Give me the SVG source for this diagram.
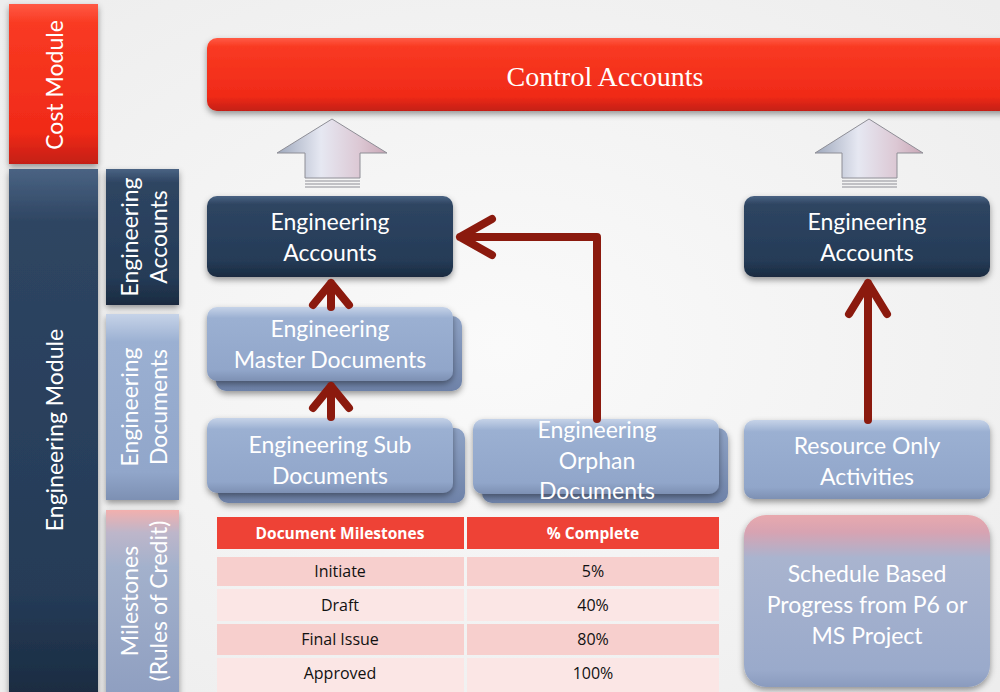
<svg xmlns="http://www.w3.org/2000/svg" width="1000" height="692" viewBox="0 0 1000 692">
<defs>
  <radialGradient id="bg" cx="0.5" cy="0.5" r="0.7">
    <stop offset="0" stop-color="#FAFAFA"/>
    <stop offset="1" stop-color="#EDEDED"/>
  </radialGradient>
  <linearGradient id="red" x1="0" y1="0" x2="0" y2="1">
    <stop offset="0" stop-color="#FF5A45"/>
    <stop offset="0.12" stop-color="#F93A22"/>
    <stop offset="0.8" stop-color="#F02A18"/>
    <stop offset="1" stop-color="#C41F12"/>
  </linearGradient>
  <linearGradient id="navy" x1="0" y1="0" x2="0" y2="1">
    <stop offset="0" stop-color="#4A6383"/>
    <stop offset="0.1" stop-color="#2E4562"/>
    <stop offset="0.8" stop-color="#253B57"/>
    <stop offset="1" stop-color="#1A2B40"/>
  </linearGradient>
  <linearGradient id="light" x1="0" y1="0" x2="0" y2="1">
    <stop offset="0" stop-color="#C6D3E8"/>
    <stop offset="0.15" stop-color="#9BB0D2"/>
    <stop offset="0.85" stop-color="#91A6CA"/>
    <stop offset="1" stop-color="#7D90B3"/>
  </linearGradient>
  <linearGradient id="lightback" x1="0" y1="0" x2="0" y2="1">
    <stop offset="0" stop-color="#8FA3C6"/>
    <stop offset="1" stop-color="#6E82A8"/>
  </linearGradient>
  <linearGradient id="pinkblue" x1="0" y1="0" x2="0" y2="1">
    <stop offset="0" stop-color="#E8A9AE"/>
    <stop offset="0.1" stop-color="#D7A3B2"/>
    <stop offset="0.25" stop-color="#A9B4CF"/>
    <stop offset="0.9" stop-color="#9AAACB"/>
    <stop offset="1" stop-color="#8A9BBE"/>
  </linearGradient>
  <linearGradient id="sideMil" x1="0" y1="0" x2="0" y2="1">
    <stop offset="0" stop-color="#F2B0AE"/>
    <stop offset="0.12" stop-color="#BDB6CA"/>
    <stop offset="0.3" stop-color="#A3B1CC"/>
    <stop offset="1" stop-color="#8E9EC0"/>
  </linearGradient>
  <linearGradient id="grayArrow" x1="0" y1="0" x2="1" y2="0">
    <stop offset="0" stop-color="#9EA8BC"/>
    <stop offset="0.4" stop-color="#E6E8F2"/>
    <stop offset="0.75" stop-color="#DCC8D4"/>
    <stop offset="1" stop-color="#C9A7B6"/>
  </linearGradient>
  <filter id="sh" x="-10%" y="-20%" width="120%" height="150%">
    <feDropShadow dx="0" dy="3" stdDeviation="3" flood-color="#000" flood-opacity="0.4"/>
  </filter>
</defs>
<style>
  .w { fill: #FFFFFF; font-family: Lato, "Open Sans", sans-serif; font-size: 23px; text-anchor: middle; }
  .side { fill: #FFFFFF; font-family: Lato, "Open Sans", sans-serif; font-size: 23px; text-anchor: middle; }
  .th { fill: #FFFFFF; font-family: "Open Sans", Lato, sans-serif; font-weight: bold; font-size: 15.5px; text-anchor: middle; }
  .td { fill: #111111; font-family: "Open Sans", Lato, sans-serif; font-size: 16px; text-anchor: middle; }
  .conn { fill: none; stroke: #8B1A0E; stroke-width: 8; stroke-linecap: round; stroke-linejoin: round; }
  .ga { fill: url(#grayArrow); stroke: #8E8E96; stroke-width: 1; }
  .gs { stroke: #8E8E96; stroke-width: 1.2; }
</style>

<rect x="0" y="0" width="1000" height="692" fill="url(#bg)"/>

<g id="cost-module">
  <rect x="9" y="4" width="89" height="160" fill="url(#red)" filter="url(#sh)"/>
  <text class="side" transform="translate(63,85) rotate(-90)">Cost Module</text>
</g>
<g id="engineering-module">
  <rect x="9" y="169" width="89" height="530" fill="url(#navy)" filter="url(#sh)"/>
  <text class="side" transform="translate(63,430) rotate(-90)">Engineering Module</text>
</g>
<g id="side-engineering-accounts">
  <rect x="106" y="169" width="73" height="136" fill="url(#navy)" filter="url(#sh)"/>
  <text class="side" transform="translate(138,237) rotate(-90)">Engineering</text>
  <text class="side" transform="translate(167,237) rotate(-90)">Accounts</text>
</g>
<g id="side-engineering-documents">
  <rect x="106" y="314" width="73" height="186" fill="url(#light)" filter="url(#sh)"/>
  <text class="side" transform="translate(138,407) rotate(-90)">Engineering</text>
  <text class="side" transform="translate(167,407) rotate(-90)">Documents</text>
</g>
<g id="side-milestones">
  <rect x="106" y="510" width="73" height="190" fill="url(#sideMil)" filter="url(#sh)"/>
  <text class="side" transform="translate(138,601) rotate(-90)">Milestones</text>
  <text class="side" transform="translate(167,601) rotate(-90)">(Rules of Credit)</text>
</g>

<g id="control-accounts">
  <rect x="207" y="38" width="810" height="73" rx="10" fill="url(#red)" filter="url(#sh)"/>
  <text x="605" y="86" fill="#FFFFFF" font-family="'Liberation Serif', 'DejaVu Serif', serif" font-size="28" text-anchor="middle">Control Accounts</text>
</g>

<g id="up-arrow-left">
  <polygon class="ga" points="332,119 277,153 305,153 305,178 360,178 360,153 387,153"/>
  <line class="gs" x1="305" y1="181" x2="360" y2="181"/>
  <line class="gs" x1="305" y1="184" x2="360" y2="184"/>
  <line class="gs" x1="305" y1="187" x2="360" y2="187"/>
</g>
<g id="up-arrow-right">
  <polygon class="ga" points="869,119 815,153 842,153 842,178 897,178 897,153 923,153"/>
  <line class="gs" x1="842" y1="181" x2="897" y2="181"/>
  <line class="gs" x1="842" y1="184" x2="897" y2="184"/>
  <line class="gs" x1="842" y1="187" x2="897" y2="187"/>
</g>

<g id="eng-accounts-left">
  <rect x="207" y="196" width="246" height="81" rx="10" fill="url(#navy)" filter="url(#sh)"/>
  <text class="w" x="330" y="230">Engineering</text>
  <text class="w" x="330" y="261">Accounts</text>
</g>
<g id="eng-accounts-right">
  <rect x="744" y="196" width="246" height="81" rx="10" fill="url(#navy)" filter="url(#sh)"/>
  <text class="w" x="867" y="230">Engineering</text>
  <text class="w" x="867" y="261">Accounts</text>
</g>

<g id="master-documents">
  <rect x="216" y="316" width="246" height="75" rx="10" fill="url(#lightback)" filter="url(#sh)"/>
  <rect x="207" y="307" width="246" height="74" rx="10" fill="url(#light)" filter="url(#sh)"/>
  <text class="w" x="330" y="337">Engineering</text>
  <text class="w" x="330" y="368">Master Documents</text>
</g>
<g id="sub-documents">
  <rect x="218" y="428" width="247" height="75" rx="10" fill="url(#lightback)" filter="url(#sh)"/>
  <rect x="207" y="418" width="246" height="75" rx="10" fill="url(#light)" filter="url(#sh)"/>
  <text class="w" x="330" y="453">Engineering Sub</text>
  <text class="w" x="330" y="484">Documents</text>
</g>
<g id="orphan-documents">
  <rect x="482" y="428" width="246" height="75" rx="10" fill="url(#lightback)" filter="url(#sh)"/>
  <rect x="473" y="419" width="246" height="75" rx="10" fill="url(#light)" filter="url(#sh)"/>
  <text class="w" x="597" y="438">Engineering</text>
  <text class="w" x="597" y="469">Orphan</text>
  <text class="w" x="597" y="499">Documents</text>
</g>
<g id="resource-only">
  <rect x="744" y="420" width="246" height="79" rx="10" fill="url(#light)" filter="url(#sh)"/>
  <text class="w" x="867" y="454">Resource Only</text>
  <text class="w" x="867" y="485">Activities</text>
</g>
<g id="schedule-based">
  <rect x="744" y="515" width="246" height="172" rx="22" fill="url(#pinkblue)" filter="url(#sh)"/>
  <text class="w" x="867" y="582">Schedule Based</text>
  <text class="w" x="867" y="613">Progress from P6 or</text>
  <text class="w" x="867" y="644">MS Project</text>
</g>

<g id="milestones-table">
  <rect x="217" y="517" width="247" height="32" fill="#EE4236"/>
  <rect x="467" y="517" width="252" height="32" fill="#EE4236"/>
  <text class="th" x="340" y="539">Document Milestones</text>
  <text class="th" x="593" y="539">% Complete</text>
  <rect x="217" y="557" width="247" height="29" fill="#F7CFCD"/>
  <rect x="467" y="557" width="252" height="29" fill="#F7CFCD"/>
  <text class="td" x="340" y="577">Initiate</text>
  <text class="td" x="593" y="577">5%</text>
  <rect x="217" y="589" width="247" height="32" fill="#FBE6E5"/>
  <rect x="467" y="589" width="252" height="32" fill="#FBE6E5"/>
  <text class="td" x="340" y="611">Draft</text>
  <text class="td" x="593" y="611">40%</text>
  <rect x="217" y="624" width="247" height="31" fill="#F7CFCD"/>
  <rect x="467" y="624" width="252" height="31" fill="#F7CFCD"/>
  <text class="td" x="340" y="645">Final Issue</text>
  <text class="td" x="593" y="645">80%</text>
  <rect x="217" y="658" width="247" height="34" fill="#FBE6E5"/>
  <rect x="467" y="658" width="252" height="34" fill="#FBE6E5"/>
  <text class="td" x="340" y="679">Approved</text>
  <text class="td" x="593" y="679">100%</text>
</g>

<g id="connectors">
  <path class="conn" d="M331,307 V283 M313,305 L331,283 L349,305"/>
  <path class="conn" d="M331,417 V386 M313,408 L331,386 L349,408"/>
  <path class="conn" d="M597,419 V237 H460 M492,219 L460,237 L492,255"/>
  <path class="conn" d="M868,420 V283 M849,314 L868,283 L887,314"/>
</g>
</svg>
